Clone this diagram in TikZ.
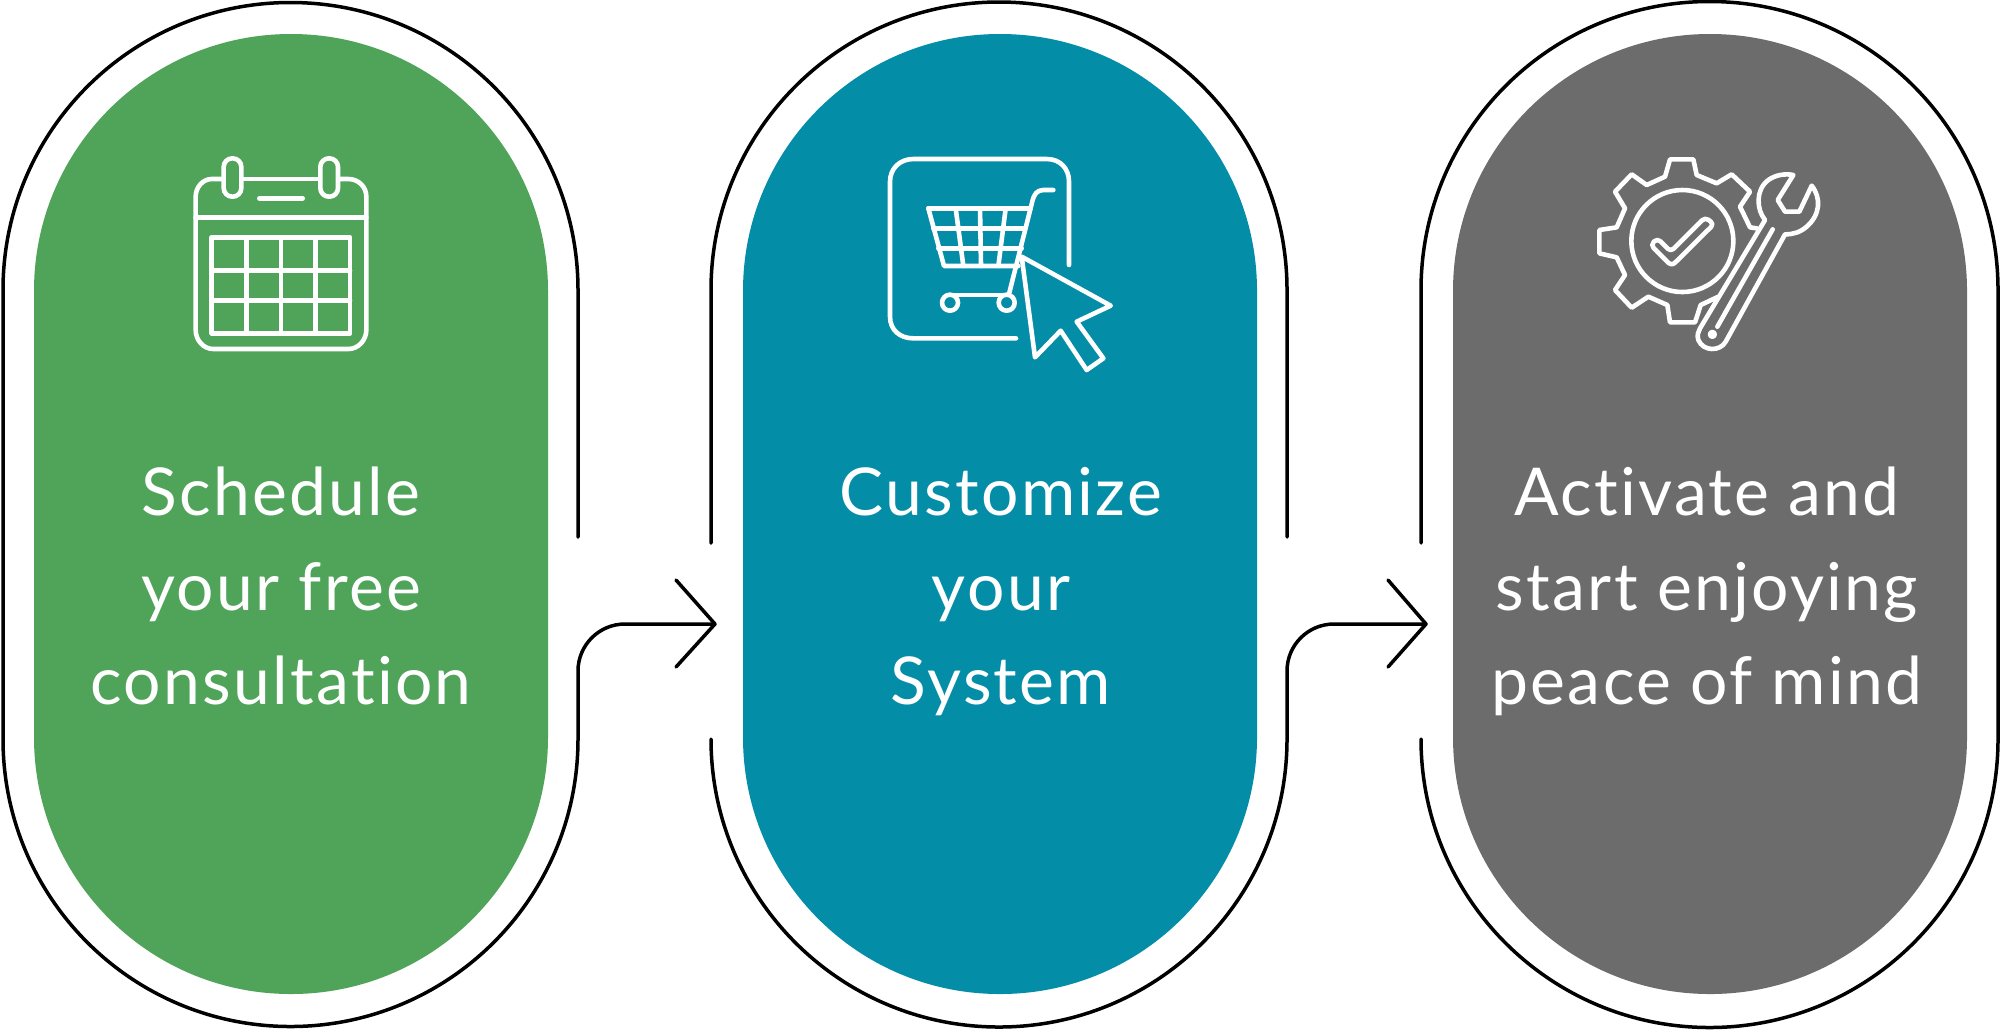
\documentclass[tikz,border=0pt]{standalone}
\usepackage{fontspec}
\setmainfont{Lato}[LetterSpace=3.5,Ligatures=NoCommon]
\definecolor{pgreen}{HTML}{4FA459}
\definecolor{pteal}{HTML}{038DA7}
\definecolor{pgrey}{HTML}{6C6C6C}
\tikzset{
 pill/.style={rectangle,minimum width=257pt,minimum height=480pt,inner sep=0pt,rounded corners=128.4pt,draw=none},
 outline/.style={draw=black,line width=1.75pt,line cap=round,line join=round},
 icon/.style={draw=white,line width=2.3pt,line cap=round,line join=round},
 label/.style={text=white,anchor=base,font=\fontsize{33}{40}\selectfont,inner sep=0pt},
 zoomed/.style={x=0.16667pt,y=-0.16667pt}
}
\begin{document}
\begin{tikzpicture}[x=0.5pt,y=-0.5pt]
\useasboundingbox (0,0) rectangle (2000,1030);
\fill[white] (0,0) rectangle (2000,1030);
\node[pill,fill=pgreen] (pa) at (291,514) {};
\node[pill,fill=pteal] (pb) at (1000,514) {};
\node[pill,fill=pgrey] (pc) at (1710,514) {};
% outlines
\coordinate (ta) at (715,624);
\coordinate (tb) at (1426,624);
\draw[outline] (578,537) -- (578,290) arc[start angle=0,end angle=180,radius=143.75pt] -- (3,739) arc[start angle=180,end angle=360,radius=143.75pt] -- (578,671) arc[start angle=180,end angle=90,radius=23.5pt] -- (ta);
\draw[outline] (676,580) -- (ta) -- (676,667);
\draw[outline] (711,543) -- (711,290) arc[start angle=180,end angle=0,radius=144pt] -- (1287,537);
\draw[outline] (711,739) arc[start angle=180,end angle=360,radius=144pt] -- (1287,671) arc[start angle=180,end angle=90,radius=23.5pt] -- (tb);
\draw[outline] (1388,580) -- (tb) -- (1388,667);
\draw[outline] (1421,543) -- (1421,290) arc[start angle=180,end angle=0,radius=144.25pt] -- (1998,739) arc[start angle=360,end angle=180,radius=144.25pt];
% labels
\node[label] (a1) at (281,515) {Schedule};
\node[label] (a2) at (281,610) {your free};
\node[label] (a3) at (281,704) {consultation};
\node[label] (b1) at (1001,515) {Customize};
\node[label] (b2) at (1001,610) {your};
\node[label] (b3) at (1001,704) {System};
\node[label] (c1) at (1707,515) {Activate and};
\node[label] (c2) at (1707,610) {start enjoying};
\node[label] (c3) at (1707,704) {peace of mind};
% calendar
\begin{scope}[shift={(170,140)},zoomed]
\draw[icon] (160,117) -- (125,117) .. controls (100,117) and (77,140) .. (77,170) -- (77,570) .. controls (77,600) and (100,627) .. (130,627) -- (535,627) .. controls (565,627) and (589,600) .. (589,570) -- (589,170) .. controls (589,140) and (565,117) .. (535,117) -- (505,117);
\draw[icon] (215,117) -- (450,117);
\draw[icon] (77,233) -- (589,233);
\draw[icon] (268,175) -- (398,175);
\draw[icon,rounded corners=4.3pt] (161,55) rectangle (214,170);
\draw[icon,rounded corners=4.3pt] (451,55) rectangle (504,170);
\draw[icon] (125,292) rectangle (540,580);
\foreach \xx in {230,333,436} \draw[icon] (\xx,292) -- (\xx,580);
\foreach \yy in {392,481} \draw[icon] (125,\yy) -- (540,\yy);
\end{scope}
% cart
\begin{scope}[shift={(870,140)},zoomed]
\draw[icon] (597,375) -- (597,125) .. controls (597,85) and (570,57) .. (530,57) -- (130,57) .. controls (90,57) and (60,85) .. (60,125) -- (60,530) .. controls (60,570) and (90,595) .. (130,595) -- (438,595);
\draw[icon] (550,150) -- (520,150) .. controls (500,150) and (492,165) .. (488,180) -- (418,458);
\draw[icon] (175,205) -- (482,205);
\draw[icon] (175,205) -- (222,378) -- (445,378);
\draw[icon] (190,265) -- (465,265);
\draw[icon] (205,325) -- (455,325);
\draw[icon] (257,205) -- (280,378);
\draw[icon] (330,205) -- (333,378);
\draw[icon] (407,205) -- (385,378);
\draw[icon] (245,465) -- (395,465);
\draw[icon] (240,488) circle[radius=24];
\draw[icon] (410,488) circle[radius=24];
\draw[icon] (455,350) -- (722,497) -- (620,545) -- (700,655) -- (650,690) -- (572,572) -- (495,652) -- cycle;
\end{scope}
% gear and wrench
\begin{scope}[shift={(1580,140)},zoomed]
\draw[icon] (530,265) -- (510,262) -- (480,200) -- (510,155) -- (455,103) -- (410,130) -- (350,105) -- (340,58) -- (270,58) -- (255,110) -- (200,135) -- (155,103) -- (105,155) -- (135,205) -- (110,262) -- (58,270) -- (58,340) -- (110,352) -- (135,405) -- (105,450) -- (155,503) -- (205,470) -- (262,495) -- (270,547) -- (345,547) -- (362,495) -- (415,470);
\draw[icon] (307,303) circle[radius=153];
\draw[icon,rounded corners=2pt] (232,295) -- (272,335) -- (375,232) -- (402,252) -- (275,378) -- (212,315) -- cycle;
\draw[icon] (555,240) .. controls (530,210) and (525,150) .. (565,120) .. controls (585,105) and (615,100) .. (640,105) -- (593,180) -- (615,215) -- (658,215) -- (695,137) .. controls (725,175) and (720,225) .. (680,260) .. controls (660,277) and (640,283) .. (615,283) -- (437,605) .. controls (420,635) and (370,635) .. (355,600) .. controls (350,585) and (355,575) .. (360,565) -- cycle;
\draw[icon] (578,268) -- (412,560);
\draw[icon] (397,583) circle[radius=7];
\end{scope}
\end{tikzpicture}
\end{document}
